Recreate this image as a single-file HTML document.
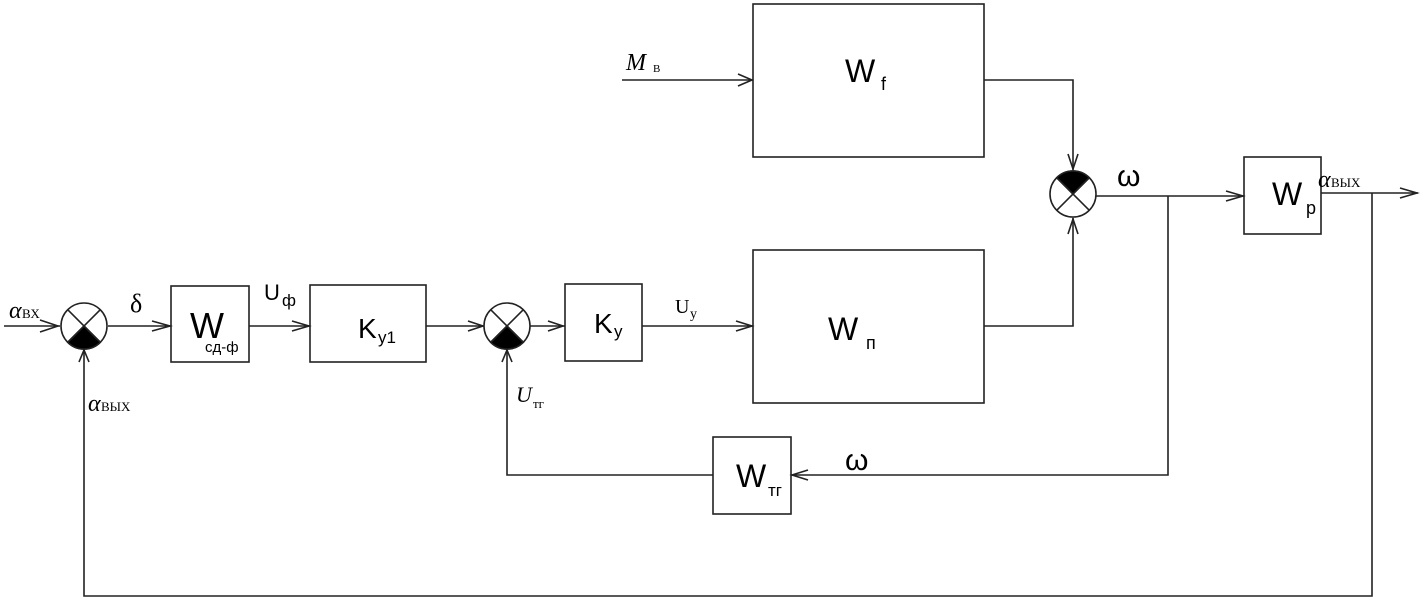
<!DOCTYPE html>
<html><head><meta charset="utf-8"><style>body{margin:0;background:#fff}svg{display:block}
.s{font-family:"Liberation Sans",sans-serif;fill:#000}.r{font-family:"Liberation Serif",serif;fill:#000}</style></head>
<body><svg width="1426" height="602" viewBox="0 0 1426 602" xmlns="http://www.w3.org/2000/svg">
<g fill="none" stroke="#222" stroke-width="1.6">
<rect x="171" y="286" width="78" height="76"/>
<rect x="310" y="285" width="116" height="77"/>
<rect x="565" y="284" width="77" height="77"/>
<rect x="753" y="250" width="231" height="153"/>
<rect x="753" y="4" width="231" height="153"/>
<rect x="1244" y="157" width="77" height="77"/>
<rect x="713" y="437" width="78" height="77"/>
<!-- lines -->
<path d="M4 326H60M108 326H171M249 326H310M426 326H484M530 326H565M642 326H753"/>
<path d="M622 80H753M984 80H1073V170M984 326H1073V218M1096 196H1244M1168 196V475H791M713 475H507V349M1321 193H1418M1372 193V596H84V349"/>
<!-- arrowheads -->
<path d="M40 320L58 326L40 332M152 321L170 326L152 331M292 321L309 326L292 331M468 321L483 326L468 331M548 321L563 326L548 331M736 321L752 326L736 331M738 74L752 80L738 86M1068 154L1073 169L1078 154M1068 234L1073 219L1078 234M1226 191L1243 196L1226 201M1400 188L1417 193L1400 198M808 470L792 475L808 480M502 362L507 350L512 362M79 362L84 350L89 362"/>
</g>
<!-- summers -->
<g stroke="#222" stroke-width="1.6">
<circle cx="84" cy="326" r="23" fill="#fff"/>
<path d="M84 326L100.3 342.3A23 23 0 0 1 67.7 342.3Z" fill="#000"/>
<path d="M67.7 309.7L100.3 342.3M100.3 309.7L67.7 342.3" fill="none"/>
<circle cx="507" cy="326" r="23" fill="#fff"/>
<path d="M507 326L523.3 342.3A23 23 0 0 1 490.7 342.3Z" fill="#000"/>
<path d="M490.7 309.7L523.3 342.3M523.3 309.7L490.7 342.3" fill="none"/>
<circle cx="1073" cy="194" r="23" fill="#fff"/>
<path d="M1073 194L1056.7 177.7A23 23 0 0 1 1089.3 177.7Z" fill="#000"/>
<path d="M1056.7 177.7L1089.3 210.3M1089.3 177.7L1056.7 210.3" fill="none"/>
</g>
<!-- labels -->
<text class="r" x="9" y="318" font-size="24" font-style="italic">α</text><text class="r" x="22" y="318" font-size="13">ВХ</text>
<text class="r" x="88" y="411" font-size="24" font-style="italic">α</text><text class="r" x="101" y="411" font-size="13">ВЫХ</text>
<text class="r" x="1318" y="187" font-size="24" font-style="italic">α</text><text class="r" x="1331" y="187" font-size="13">ВЫХ</text>
<text class="r" x="130" y="312" font-size="26">δ</text>
<text class="s" x="190" y="338" font-size="36">W</text><text class="s" x="205" y="352" font-size="15">сд-ф</text>
<text class="s" x="264" y="300" font-size="22">U</text><text class="s" x="282" y="306" font-size="17">ф</text>
<text class="s" x="358" y="338" font-size="28">K</text><text class="s" x="378" y="343" font-size="17">у1</text>
<text class="s" x="594" y="333" font-size="28">K</text><text class="s" x="614" y="337" font-size="17">у</text>
<text class="r" x="675" y="313" font-size="20">U</text><text class="r" x="690" y="318" font-size="14">у</text>
<text class="r" x="516" y="402" font-size="22" font-style="italic">U</text><text class="r" x="533" y="408" font-size="13">тг</text>
<text class="s" x="828" y="340" font-size="32">W</text><text class="s" x="866" y="349" font-size="18">п</text>
<text class="s" x="845" y="82" font-size="32">W</text><text class="s" x="881" y="90" font-size="18">f</text>
<text class="r" x="626" y="70" font-size="24" font-style="italic">M</text><text class="r" x="653" y="72" font-size="11">В</text>
<text class="s" x="1117" y="186" font-size="30">ω</text>
<text class="s" x="845" y="470" font-size="30">ω</text>
<text class="s" x="1272" y="205" font-size="32">W</text><text class="s" x="1306" y="214" font-size="18">p</text>
<text class="s" x="736" y="487" font-size="32">W</text><text class="s" x="768" y="496" font-size="17">тг</text>
</svg></body></html>
